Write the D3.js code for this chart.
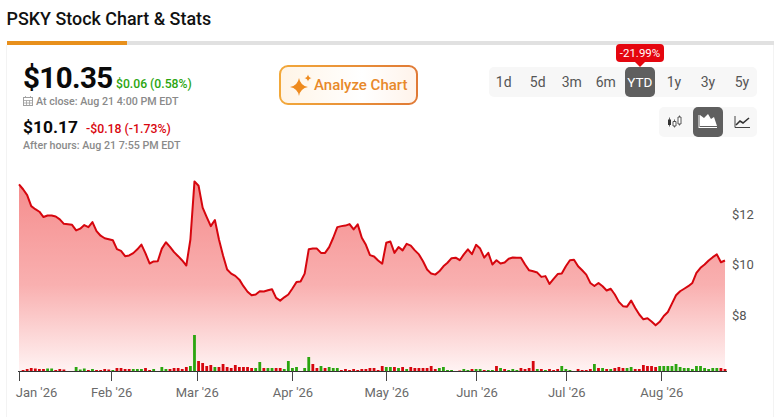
<!DOCTYPE html>
<html><head><meta charset="utf-8">
<script src="https://cdn.jsdelivr.net/npm/d3@7"></script>
<style>html,body{margin:0;padding:0;background:#fff;overflow:hidden}svg{display:block}text{font-family:Roboto,sans-serif}</style>
</head><body><svg id="c" width="774" height="417"></svg>
<script>
const closes=[13.17,12.98,12.75,12.31,12.19,12.09,11.88,11.94,11.94,11.90,11.79,11.61,11.59,11.57,11.35,11.42,11.56,11.48,11.68,11.32,11.14,11.04,11.00,10.96,10.61,10.54,10.33,10.36,10.45,10.60,10.79,10.44,10.04,10.12,10.13,10.63,10.88,10.70,10.49,10.33,10.16,9.96,10.99,13.29,13.12,12.25,11.88,11.52,11.76,10.99,10.36,9.80,9.64,9.55,9.40,9.14,8.92,8.78,8.81,8.94,8.93,8.98,9.02,8.68,8.57,8.70,8.81,9.05,9.31,9.33,9.64,10.60,10.63,10.63,10.46,10.46,10.69,11.06,11.48,11.52,11.54,11.60,11.39,11.59,11.06,10.78,10.37,10.32,10.16,10.03,10.86,10.91,10.46,10.69,10.56,10.82,10.75,10.56,10.40,10.13,9.80,9.64,9.60,9.73,9.93,10.07,10.25,10.27,10.17,10.40,10.60,10.41,10.78,10.63,10.27,10.46,10.00,10.17,10.04,10.08,10.23,10.28,10.27,10.27,10.00,9.77,9.73,9.68,9.51,9.54,9.23,9.43,9.62,9.64,9.93,10.17,10.19,9.93,9.77,9.60,9.27,9.15,9.27,9.14,8.97,9.04,8.81,8.52,8.35,8.33,8.57,8.28,8.02,7.83,7.87,7.74,7.59,7.73,7.96,8.12,8.45,8.78,8.94,9.04,9.14,9.27,9.67,9.87,10.00,10.16,10.29,10.40,10.09,10.16];
const volumes=[0,1,2,3,2.5,2,2,2.5,2.5,1,2,1.5,0,0,4,1.5,2.5,1,2,1,1,2,1.5,1,3,3,2,2,2,2,2,3,1,2,0,4,2,2,3,3,2,4,5,36,10,8,5,6,4,4,7,4,3,6,4,4,4,3,3,9,3,3,3,3,3,2,10,3,4,0,3,14,7,3,5,3,4,3,3,1,2,1,2,1,2,2,3,3,1,5,4,4,4,3,4,2,4,3,3,3,3,5,2,3,4,1,1,0,0.5,2,1,2,2,2,1,1,1,5,3,2,1,2,1,3,2,3,10,2,2,1,2,1,2,5,2,1,0,2,1,1,2,7,3,3,2,2,3,4,3,3,4,2,2,6,5,5,4,5,5,5,5,7,4,3,3,2,5,5,3,2,3,3,3,2];
const volumeDir=("rrrrrrrggr"+"rrrrgggrgr"+"rrrgrrrrgg"+"grrgrggrrr"+"rrggrrrrgr"+"rrrrrrrrgg"+"rggrrggggg"+"ggrrgrgggr"+"rrrrrrrrrr"+"ggrgrgrrrr"+"rrrgggggrg"+"grggrggrgr"+"gggrrrrgrg"+"rrrggggrrr"+"rgrgrgrrrg"+"grrrrrrggg"+"gggggggggg"+"ggrr").split("");
const monthLabels=["Jan '26","Feb '26","Mar '26","Apr '26","May '26","Jun '26","Jul '26","Aug '26"];
const monthAt=[0,22.6,43.55,67,90,112.1,134.1,157.4];
const priceTicks=[8,10,12];
const ranges=["1d","5d","3m","6m","YTD","1y","3y","5y"];

const svg=d3.select("#c");
const defs=svg.append("defs");
const RED="#d6060e",GREEN="#2ba50f";

const x=d3.scaleLinear().domain([0,closes.length-1]).range([19,725]);
const y=d3.scaleLinear().domain([8,12]).range([315,214]);
const BASE=371;
const v=d3.scaleLinear().domain([0,36]).range([BASE,335]);

// ---------- page frame
svg.append("text").attr("x",6.5).attr("y",25).attr("font-size",17.9).attr("font-weight",500).attr("fill","#111").text("PSKY Stock Chart & Stats");
svg.append("rect").attr("x",7).attr("y",41).attr("width",767).attr("height",4).attr("fill","#e1e1e1");
svg.append("rect").attr("x",7).attr("y",41).attr("width",120).attr("height",4).attr("fill","#e8901c");
svg.append("rect").attr("x",6).attr("y",45).attr("width",1).attr("height",372).attr("fill","#f3f3f3");
svg.append("rect").attr("x",773).attr("y",45).attr("width",1).attr("height",372).attr("fill","#f3f3f3");

// ---------- quote block
const T=(tx,ty,s,size,weight,fill,anchor)=>svg.append("text").attr("x",tx).attr("y",ty).attr("font-size",size).attr("font-weight",weight).attr("fill",fill).attr("text-anchor",anchor||"start").text(s);
T(23,88,"$10.35",29.5,700,"#0a0a0a").attr("letter-spacing",-0.6);
T(116,88,"$0.06 (0.58%)",12.2,500,"#2ba50f");
T(36,105,"At close: Aug 21 4:00 PM EDT",10.7,500,"#8a8a8a");
T(23,133,"$10.17",17.4,700,"#0a0a0a");
T(86,133,"-$0.18 (-1.73%)",12.3,500,"#d9060f");
T(23,149,"After hours: Aug 21 7:55 PM EDT",10.7,500,"#8a8a8a");
const cal=svg.append("g").attr("fill","none").attr("stroke","#a0a0a0");
cal.append("rect").attr("x",23.5).attr("y",97.5).attr("width",9).attr("height",8);
cal.append("path").attr("d","M23.5 100.5H32.5M25.5 96V98M30.5 96V98M26.5 100.5V105M29.5 100.5V105M23.5 103H32.5").attr("stroke-width",.8);

// ---------- analyze button
const bs=defs.append("linearGradient").attr("id","bs");
bs.append("stop").attr("offset",0).attr("stop-color","#f2a83a");
bs.append("stop").attr("offset",1).attr("stop-color","#e07a36");
const bf=defs.append("linearGradient").attr("id","bf");
bf.append("stop").attr("offset",0).attr("stop-color","#fff4e6");
bf.append("stop").attr("offset",.6).attr("stop-color","#ffffff");
bf.append("stop").attr("offset",1).attr("stop-color","#fff3ea");
svg.append("rect").attr("x",280).attr("y",66).attr("width",137).attr("height",38).attr("rx",8).attr("fill","url(#bf)").attr("stroke","url(#bs)").attr("stroke-width",2);
const star=(cx,cy,r)=>`M${cx} ${cy-r}Q${cx+r*.15} ${cy-r*.15} ${cx+r} ${cy}Q${cx+r*.15} ${cy+r*.15} ${cx} ${cy+r}Q${cx-r*.15} ${cy+r*.15} ${cx-r} ${cy}Q${cx-r*.15} ${cy-r*.15} ${cx} ${cy-r}Z`;
svg.append("path").attr("d",star(299,87,9)).attr("fill","#ee8a1e");
svg.append("path").attr("d",star(308,78,3.6)).attr("fill","#ee8a1e");
T(314,90,"Analyze Chart",15,500,"#e8892a");

// ---------- range buttons
svg.append("rect").attr("x",489).attr("y",67).attr("width",268).attr("height",30).attr("rx",5).attr("fill","#f7f7f7");
const rangeX=d3.scalePoint().domain(ranges).range([503.7,742]);
svg.append("rect").attr("x",625).attr("y",67).attr("width",30).attr("height",30).attr("rx",5).attr("fill","#5f5f5f");
ranges.forEach(r=>T(rangeX(r),87,r,r==="YTD"?13.5:14,400,r==="YTD"?"#fff":"#555","middle"));
svg.append("path").attr("d","M634 61L640 67L646 61Z").attr("fill","#e5060f");
svg.append("rect").attr("x",616).attr("y",44).attr("width",48).attr("height",18).attr("rx",4).attr("fill","#e5060f");
T(640,57,"-21.99%",11.5,400,"#fff","middle");

// ---------- chart type buttons
svg.append("rect").attr("x",659).attr("y",107).attr("width",98).attr("height",30).attr("rx",5).attr("fill","#f7f7f7");
svg.append("rect").attr("x",693).attr("y",107).attr("width",30).attr("height",30).attr("rx",5).attr("fill","#5f5f5f");
svg.append("path").attr("d","M669.5 117.5V126.5M674.5 119.5V127.5M679.5 115.5V125.5").attr("stroke","#555").attr("stroke-width",.9);
svg.append("path").attr("d","M668 119.5H671V125H668Z").attr("fill","#333");
svg.append("path").attr("d","M673 121.5H676V126H673ZM678 117H681V124H678Z").attr("fill","#fff").attr("stroke","#444").attr("stroke-width",.9);
svg.append("path").attr("d","M699 128V115M699 127.5H717").attr("stroke","#fff").attr("stroke-width",1).attr("fill","none");
svg.append("path").attr("d","M700 126V115L704 118L708 114L711 119L714 117L717 126Z").attr("fill","#fff");
svg.append("path").attr("d","M735 116V127.5H750").attr("stroke","#444").attr("stroke-width",1).attr("fill","none");
svg.append("path").attr("d","M736 125L740 121L743 123L749 118").attr("stroke","#333").attr("stroke-width",1.6).attr("fill","none");

// ---------- area + line
const g=defs.append("linearGradient").attr("id","fill").attr("gradientUnits","userSpaceOnUse").attr("x1",0).attr("x2",0).attr("y1",180).attr("y2",BASE);
g.append("stop").attr("offset",0).attr("stop-color","#f58c8c");
g.append("stop").attr("offset",.55).attr("stop-color","#f9b0b0");
g.append("stop").attr("offset",1).attr("stop-color","#fff3f3");
const idx=closes.map((_,i)=>i);
svg.append("path").attr("d",d3.area().x(i=>x(i)).y0(BASE).y1(i=>y(closes[i]))(idx)).attr("fill","url(#fill)");
svg.append("path").attr("d",d3.line().x(i=>x(i)).y(i=>y(closes[i]))(idx)).attr("fill","none").attr("stroke",RED).attr("stroke-width",2).attr("stroke-linejoin","round");

// ---------- volume
svg.append("g").selectAll("rect").data(idx).join("rect")
 .attr("x",i=>x(i)-1.4).attr("width",2.8).attr("y",i=>v(volumes[i])).attr("height",i=>BASE-v(volumes[i]))
 .attr("fill",i=>volumeDir[i]==="g"?GREEN:RED);

// ---------- axes
svg.append("line").attr("x1",18).attr("x2",727).attr("y1",BASE+.5).attr("y2",BASE+.5).attr("stroke","#333").attr("stroke-width",1);
monthAt.forEach((m,k)=>{
  const px=Math.round(x(m))+.5;
  svg.append("line").attr("x1",px).attr("x2",px).attr("y1",BASE).attr("y2",381).attr("stroke","#444");
  T(k===0?36.5:x(m)+.5,397,monthLabels[k],13,400,"#6a6a6a","middle");
});
priceTicks.forEach(p=>T(732,y(p)+4.5,"$"+p,13,400,"#555"));
</script></body></html>
